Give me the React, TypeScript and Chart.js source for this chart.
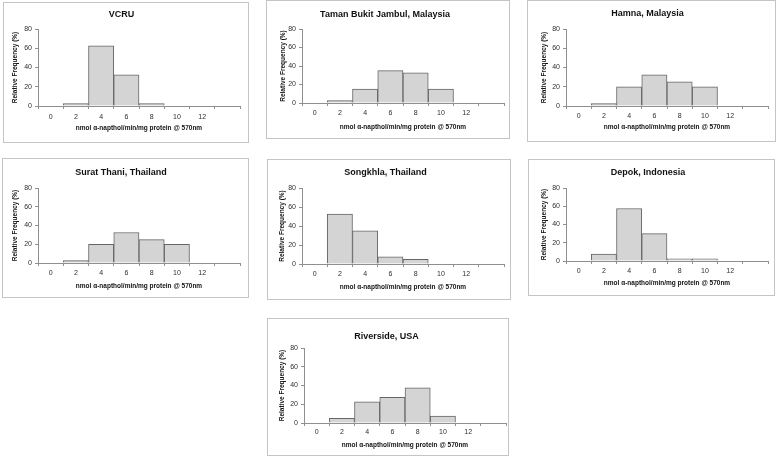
import React, { useEffect, useRef } from "react";
import { Chart, registerables } from "chart.js";

Chart.register(...registerables);

// ---- data ----
const binLabels = ["0", "2", "4", "6", "8", "10", "12", ""];
const yTickMin = 0;
const yTickMax = 80;
const yTickStep = 20;
const xAxisTitle = "nmol \u03b1-napthol/min/mg protein @ 570nm";
const yAxisTitle = "Relative Frequency (%)";

const vcru = [0, 2.5, 62.5, 32.5, 2.5, 0, 0, 0];
const tamanBukitJambul = [0, 2.5, 15, 35, 32.5, 15, 0, 0];
const hamna = [0, 2.5, 20, 32.5, 25, 20, 0, 0];
const suratThani = [0, 2.5, 20, 32.5, 25, 20, 0, 0];
const songkhla = [0, 52.5, 35, 7.5, 5, 0, 0, 0];
const depok = [0, 7.5, 57.5, 30, 2.5, 2.5, 0, 0];
const riverside = [0, 5, 22.5, 27.5, 37.5, 7.5, 0, 0];

const titles = [
  "VCRU",
  "Taman Bukit Jambul, Malaysia",
  "Hamna, Malaysia",
  "Surat Thani, Thailand",
  "Songkhla, Thailand",
  "Depok, Indonesia",
  "Riverside, USA",
];
const series = [vcru, tamanBukitJambul, hamna, suratThani, songkhla, depok, riverside];

// ---- layout (page pixel coordinates) ----
// box: [x1, y1, x2, y2]; plot: [left, right, top, bottom]
const layouts = [
  { box: [3, 2, 249, 143], plot: [38, 240, 29, 106], titleY: 15, labelY: 117, xTitleY: 128, yTitleX: 15 },
  { box: [266, 0, 510, 139], plot: [302, 504, 29, 103], titleY: 15, labelY: 113, xTitleY: 127, yTitleX: 283 },
  { box: [527, 0, 776, 142], plot: [566, 768, 29, 106], titleY: 14, labelY: 116, xTitleY: 127, yTitleX: 544 },
  { box: [2, 158, 249, 298], plot: [38, 240, 188, 263], titleY: 173, labelY: 273, xTitleY: 286, yTitleX: 15 },
  { box: [267, 159, 511, 300], plot: [302, 504, 188, 264], titleY: 173, labelY: 274, xTitleY: 287, yTitleX: 282 },
  { box: [528, 159, 775, 296], plot: [566, 768, 188, 261], titleY: 173, labelY: 271, xTitleY: 283, yTitleX: 544 },
  { box: [267, 318, 509, 456], plot: [304, 506, 348, 423], titleY: 337, labelY: 432, xTitleY: 445, yTitleX: 282 },
];

const FONT = "'Liberation Sans', Arial, Helvetica, sans-serif";
const AXIS_COLOR = "#8f8f8f";
const TEXT_COLOR = "#2e2e2e";

function Panel({ title, data, lay }: { title: string; data: number[]; lay: any }) {
  const ref = useRef<HTMLCanvasElement | null>(null);
  const [x1, y1, x2, y2] = lay.box;
  const w = x2 - x1;
  const h = y2 - y1;

  useEffect(() => {
    if (!ref.current) return;
    const [pl, pr, pt, pb] = lay.plot;
    const plotLeft = pl - x1;
    const plotRight = pr - x1;
    const plotTop = pt - y1;
    const plotBottom = pb - y1;
    const titleSize = 9;
    const titleLh = titleSize * 1.2;
    const titleCenter = lay.titleY - y1;
    const tickSize = 7;
    const axTitleSize = 6.5;
    const axLh = axTitleSize * 1.2;
    const tickLen = 3;

    const chart = new Chart(ref.current, {
      type: "bar",
      data: {
        labels: binLabels,
        datasets: [
          {
            data,
            backgroundColor: "#d4d4d4",
            borderColor: "#666666",
            borderWidth: 1,
            barPercentage: 1,
            categoryPercentage: 1,
          },
        ],
      },
      options: {
        responsive: false,
        animation: false,
        layout: { padding: { left: 0, right: w - plotRight, top: 0, bottom: 0 } },
        plugins: {
          legend: { display: false },
          tooltip: { enabled: false },
          title: {
            display: true,
            text: title,
            color: "#111111",
            font: { family: FONT, size: titleSize, weight: "bold" },
            padding: { top: titleCenter - titleLh / 2, bottom: plotTop - titleCenter - titleLh / 2 },
          },
        },
        scales: {
          x: {
            type: "category",
            grid: { offset: true, drawOnChartArea: false, drawTicks: true, tickLength: tickLen, color: AXIS_COLOR },
            border: { color: AXIS_COLOR, width: 1 },
            ticks: {
              color: TEXT_COLOR,
              font: { family: FONT, size: tickSize },
              padding: lay.labelY - pb - tickLen - (tickSize * 1.2) / 2,
              maxRotation: 0,
              autoSkip: false,
            },
            title: {
              display: true,
              text: xAxisTitle,
              color: "#111111",
              font: { family: FONT, size: axTitleSize, weight: "bold" },
              padding: { top: 0, bottom: h - (lay.xTitleY - y1) - axLh / 2 },
            },
            afterFit: (s: any) => {
              s.height = h - plotBottom;
            },
          },
          y: {
            min: yTickMin,
            max: yTickMax,
            grid: { drawOnChartArea: false, drawTicks: true, tickLength: tickLen, color: AXIS_COLOR },
            border: { color: AXIS_COLOR, width: 1 },
            ticks: {
              stepSize: yTickStep,
              color: TEXT_COLOR,
              font: { family: FONT, size: tickSize },
              padding: 3,
            },
            title: {
              display: true,
              text: yAxisTitle,
              color: "#111111",
              font: { family: FONT, size: axTitleSize, weight: "bold" },
              padding: { top: lay.yTitleX - x1 - axLh / 2, bottom: 0 },
            },
            afterFit: (s: any) => {
              s.width = plotLeft;
            },
          },
        },
      } as any,
    });
    return () => chart.destroy();
  }, []);

  return (
    <div
      style={{
        position: "absolute",
        left: x1,
        top: y1,
        width: w,
        height: h,
        boxSizing: "border-box",
        border: "1px solid #c4c4c4",
      }}
    >
      <canvas
        ref={ref}
        width={w}
        height={h}
        style={{ position: "absolute", left: -1, top: -1, width: w, height: h }}
      />
    </div>
  );
}

export default function App() {
  return (
    <div
      style={{
        position: "fixed",
        left: 0,
        top: 0,
        width: 778,
        height: 457,
        background: "#ffffff",
        overflow: "hidden",
      }}
    >
      {titles.map((t, i) => (
        <Panel key={t} title={t} data={series[i]} lay={layouts[i]} />
      ))}
    </div>
  );
}
